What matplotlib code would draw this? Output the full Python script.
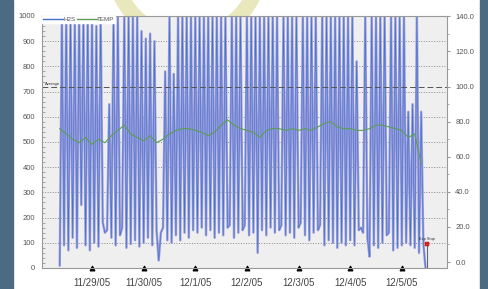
import matplotlib
matplotlib.use("Agg")
import matplotlib.pyplot as plt
import matplotlib.patches as mpatches
from matplotlib.ticker import AutoMinorLocator, MultipleLocator, FormatStrFormatter
import pandas as pd

# H2S readings, hourly starting 11/28/05 09:00
h2s_start = "2005-11-28 09:00"
h2s = [10, 1000, 90, 1000, 70, 1000, 120, 980, 80, 1000, 250, 1000, 90, 1000, 70,
       1000, 100, 960, 85, 1000, 180, 140, 150, 650, 120, 1000, 90, 1000, 130, 160,
       1000, 80, 1000, 95, 1000, 110, 1000, 85, 940, 100, 910, 120, 930, 90, 900,
       150, 30, 140, 160, 780, 110, 1000, 100, 770, 130, 1000, 110, 1000, 140, 1000,
       120, 1000, 150, 1000, 140, 1000, 160, 1000, 130, 1000, 150, 1000, 120, 1000, 140,
       1000, 130, 1000, 160, 170, 1000, 120, 1000, 140, 1000, 150, 170, 1000, 130, 1000,
       140, 1000, 60, 1000, 150, 1000, 130, 1000, 160, 1000, 140, 1000, 150, 170, 1000,
       130, 1000, 140, 1000, 120, 1000, 160, 180, 1000, 130, 1000, 110, 1000, 140, 1000,
       150, 170, 1000, 90, 1000, 110, 1000, 100, 1000, 80, 1000, 100, 1000, 90, 1000,
       110, 1000, 90, 820, 150, 160, 140, 1000, 120, 45, 1000, 90, 1000, 80, 1000,
       100, 1000, 130, 140, 1000, 70, 1000, 80, 1000, 90, 1000, 100, 620, 90, 650,
       80, 1000, 60, 620, 100, 0]

# TEMP readings, one every 3 hours from the same start
temp = [76, 73, 70, 68, 71, 67, 70, 68, 72, 75,
        78, 73, 71, 69, 72, 68, 70, 73, 75, 76,
        76, 75, 74, 72, 74, 78, 81, 78, 76, 75,
        74, 71, 75, 76, 76, 75, 76, 75, 76, 75,
        77, 79, 80, 77, 76, 76, 75, 75, 76, 78,
        78, 77, 76, 75, 71, 73, 56]

tick_dates = ["2005-11-29", "2005-11-30", "2005-12-01", "2005-12-02",
              "2005-12-03", "2005-12-04", "2005-12-05"]
tick_labels = ["11/29/05", "11/30/05", "12/1/05", "12/2/05",
               "12/3/05", "12/4/05", "12/5/05"]

average_h2s = 720
stop_time = "2005-12-05 11:35"
stop_temp = 10

plt.rcParams["font.family"] = ["Liberation Sans", "DejaVu Sans"]

h2s_t = pd.date_range(h2s_start, periods=len(h2s), freq="1h")
temp_t = pd.date_range(h2s_start, periods=len(temp), freq="3h")

fig = plt.figure(figsize=(4.88, 2.89), dpi=100, facecolor="white")

# side stripes and the faint logo ring of the page, behind the chart
fig.patches.append(mpatches.Rectangle((0, 0), 13 / 488, 1, transform=fig.transFigure,
                                      color="#4b6b82", zorder=-2))
fig.patches.append(mpatches.Rectangle((480 / 488, 0), 8 / 488, 1, transform=fig.transFigure,
                                      color="#4b6b82", zorder=-2))
fig.patches.append(mpatches.Wedge((187, 324), 80, 180, 360, width=14,
                                  transform=None, color="#e8e8bc", zorder=-2))

ax = fig.add_axes([42 / 488, 21 / 289, 405 / 488, 252 / 289])
ax.set_zorder(1)
ax.set_facecolor("#efefef")
ax.plot(h2s_t, h2s, color="#9a9cdc", lw=1.7, label="H2S")
ax.plot(h2s_t, h2s, color="#4470cc", lw=0.45)
ax.axhline(average_h2s, color="#555555", lw=0.7, dashes=(6, 3))
ax.text(pd.Timestamp("2005-11-28 02:00"), average_h2s + 8, "Average", fontsize=3,
        color="#333333")

ax.set_ylim(0, 1000)
ax.set_xlim(pd.Timestamp("2005-11-28 00:45"), pd.Timestamp("2005-12-05 21:00"))
ax.yaxis.set_major_locator(MultipleLocator(100))
ax.yaxis.set_minor_locator(AutoMinorLocator(5))
ax.yaxis.grid(True, linestyle=":", color="#8a8a8a", lw=0.7)
ax.set_axisbelow(True)
ax.tick_params(axis="y", which="major", length=0, labelsize=5.5, labelcolor="#555555", pad=5)
ax.tick_params(axis="y", which="minor", length=2, direction="in", color="#999999")

ax.set_xticks(pd.to_datetime(tick_dates))
ax.set_xticklabels(tick_labels)
ax.tick_params(axis="x", labelsize=7, labelcolor="#444444", pad=4)
for t in ax.xaxis.get_major_ticks():
    t.tick1line.set_marker("^")
    t.tick1line.set_markersize(3.5)
    t.tick1line.set_color("black")
for s in ax.spines.values():
    s.set_color("#999999")
    s.set_linewidth(0.8)

ax2 = ax.twinx()
ax2.plot(temp_t, temp, color="#5c9e55", lw=0.8, label="TEMP")
ax2.plot([pd.Timestamp(stop_time)] * 2, [-3.4, stop_temp], color="#666666", lw=0.8)
ax2.plot(pd.Timestamp(stop_time), stop_temp, marker="s", ms=3.5, color="#e8201e",
         mec="#aa1111", mew=0.3)
ax2.text(pd.Timestamp(stop_time), stop_temp + 2.5, "Exp Stop", fontsize=2.8,
         ha="center", color="#222222")
ax2.set_ylim(-3.4, 140.2)
ax2.yaxis.set_major_locator(MultipleLocator(20))
ax2.yaxis.set_major_formatter(FormatStrFormatter("%.1f"))
ax2.yaxis.set_minor_locator(AutoMinorLocator(2))
ax2.tick_params(axis="y", which="major", length=2, color="#999999", labelsize=5.5,
                labelcolor="#555555", pad=4)
ax2.tick_params(axis="y", which="minor", length=1.5, color="#999999")
for s in ax2.spines.values():
    s.set_visible(False)

handles = ax.get_lines()[1:2] + ax2.get_lines()[:1]
leg = ax2.legend(handles, ["H2S", "TEMP"], loc="upper left", ncol=2, fontsize=4.5,
                 frameon=True, fancybox=False, borderaxespad=0, borderpad=0.1,
                 handlelength=3.2, handletextpad=0.1, columnspacing=0.2)
leg.get_frame().set_facecolor("white")
leg.get_frame().set_edgecolor("white")
leg.get_frame().set_alpha(1)
for line in leg.get_lines():
    line.set_linewidth(1.0)
for t in leg.get_texts():
    t.set_color("#555555")

fig.savefig("out.png", dpi=100, facecolor=fig.get_facecolor())
